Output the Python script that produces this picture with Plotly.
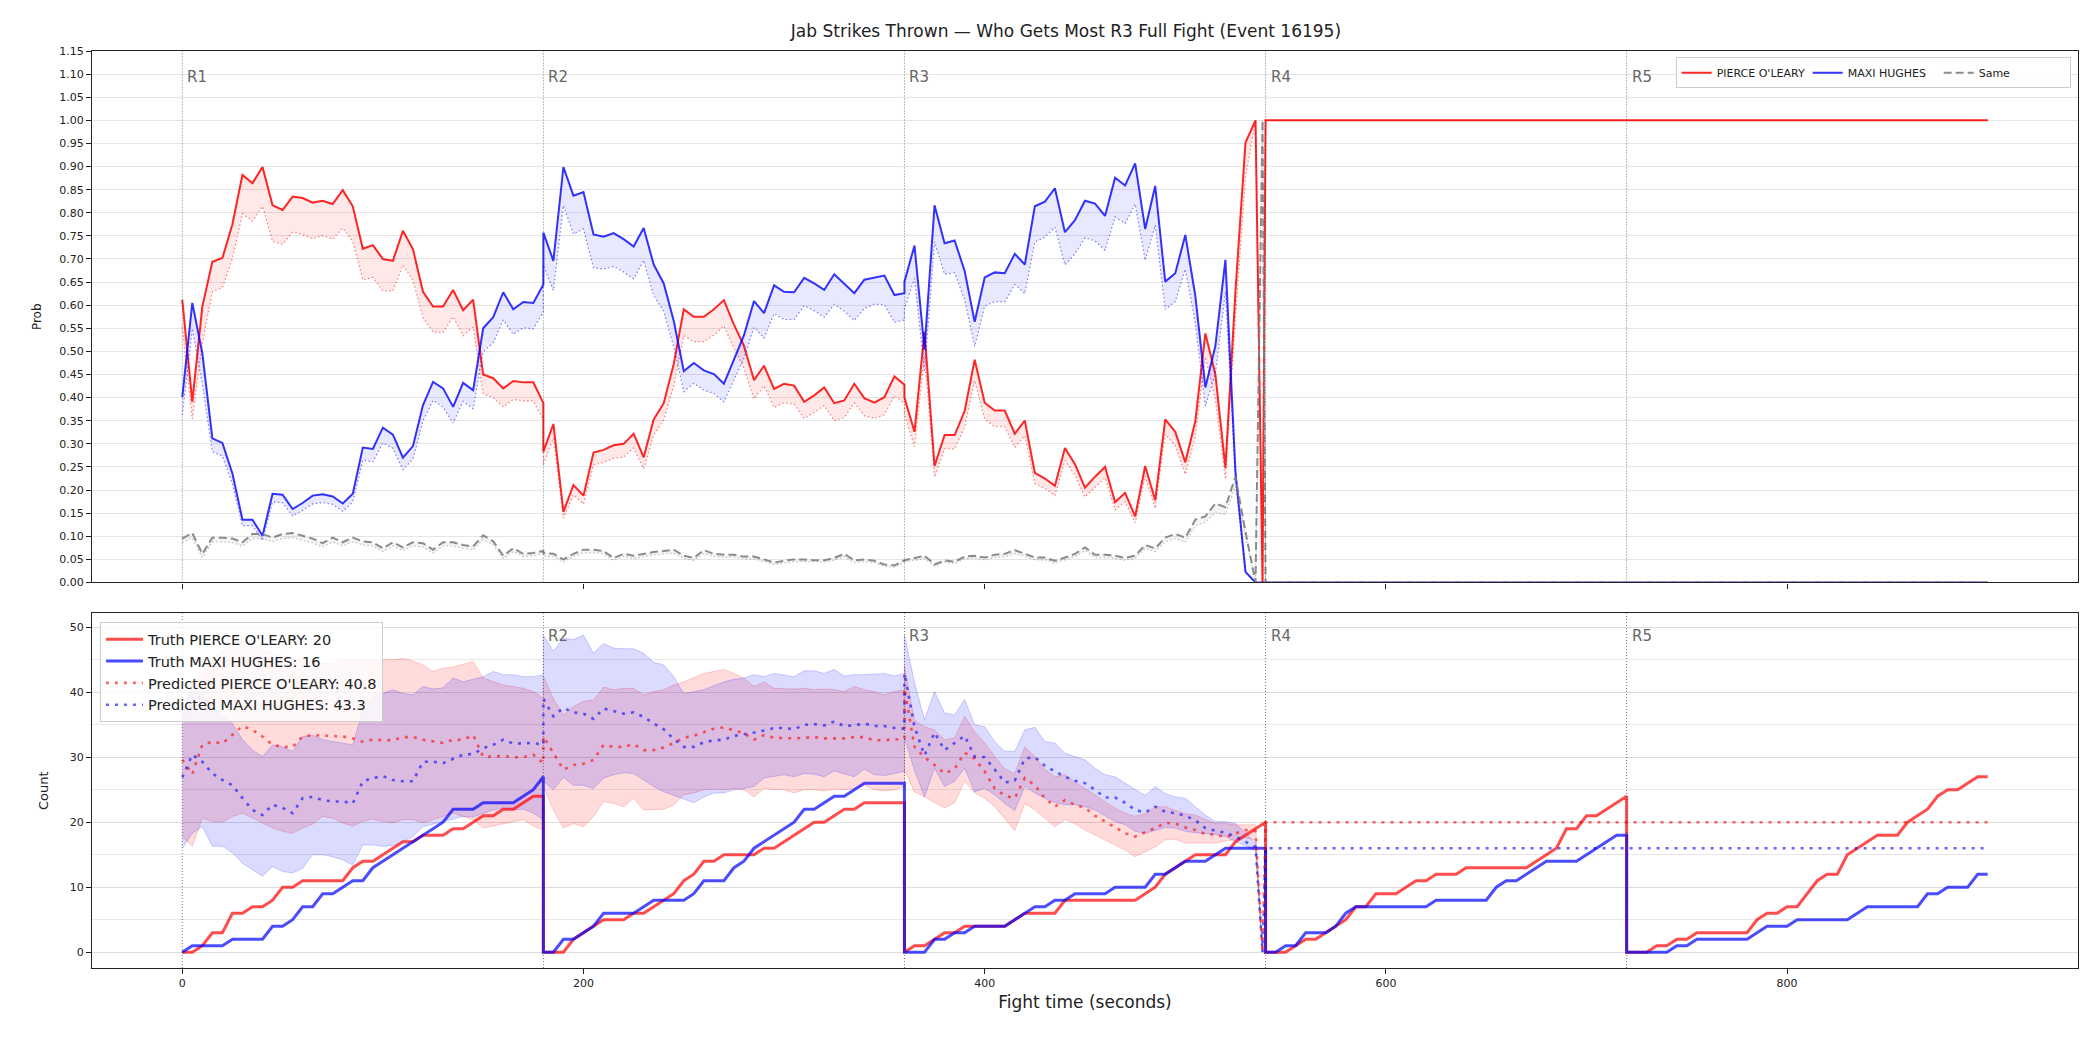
import plotly.graph_objects as go
from plotly.subplots import make_subplots

# ---------------- data ----------------
rounds = ["R1", "R2", "R3", "R4", "R5"]
round_starts = [0, 180, 360, 540, 720]
fighter_a = "PIERCE O'LEARY"
fighter_b = "MAXI HUGHES"

def grid(a, b):
    return list(range(a, b + 1, 5))

# time stamps (seconds)
t_prob = grid(0, 180) + grid(180, 360) + grid(360, 535) + [538.5] + [540, 900]
t_band = grid(0, 180) + grid(180, 360) + grid(360, 535) + [538.5]
t_pred = t_band + [540, 900]
t_truth = grid(0, 180) + grid(180, 360) + grid(360, 540) + grid(540, 720) + grid(720, 900)

# ---- top panel: probability (solid) ----
p_a_r1 = [0.612,0.391,0.597,0.694,0.702,0.775,0.882,0.864,0.899,0.816,0.806,0.835,0.832,0.822,0.826,0.819,0.849,0.814,0.722,0.730,0.700,0.696,0.761,0.721,0.629,0.597,0.597,0.633,0.589,0.612,0.450,0.442,0.420,0.436,0.433,0.433,0.388]
p_a_r2 = [0.283,0.343,0.153,0.211,0.188,0.281,0.287,0.297,0.300,0.322,0.271,0.353,0.388,0.473,0.591,0.575,0.575,0.591,0.611,0.558,0.512,0.438,0.469,0.419,0.430,0.426,0.391,0.405,0.422,0.388,0.394,0.430,0.399,0.389,0.401,0.446,0.428]
p_a_r3 = [0.400,0.326,0.543,0.252,0.319,0.319,0.371,0.482,0.389,0.372,0.372,0.322,0.350,0.237,0.225,0.209,0.291,0.256,0.205,0.229,0.250,0.174,0.194,0.143,0.252,0.178,0.353,0.326,0.260,0.349,0.539,0.450,0.248,0.630,0.952,1.000,0.000]
p_a_r45 = [1.0, 1.0]

p_b_r1 = [0.401,0.605,0.496,0.312,0.302,0.236,0.136,0.136,0.101,0.192,0.190,0.159,0.172,0.188,0.191,0.186,0.171,0.192,0.292,0.289,0.335,0.320,0.270,0.295,0.384,0.434,0.420,0.380,0.432,0.416,0.550,0.574,0.628,0.591,0.607,0.605,0.645]
p_b_r2 = [0.757,0.696,0.899,0.837,0.845,0.753,0.748,0.756,0.743,0.727,0.767,0.688,0.647,0.566,0.457,0.475,0.459,0.451,0.430,0.482,0.535,0.609,0.583,0.643,0.629,0.628,0.659,0.647,0.633,0.667,0.647,0.626,0.655,0.660,0.664,0.622,0.626]
p_b_r3 = [0.651,0.729,0.504,0.816,0.734,0.740,0.674,0.564,0.660,0.671,0.669,0.711,0.688,0.814,0.824,0.853,0.758,0.784,0.826,0.820,0.793,0.876,0.859,0.907,0.765,0.858,0.651,0.669,0.752,0.620,0.422,0.512,0.698,0.240,0.023,0.000,0.000]
p_b_r45 = [0.0, 0.0]

p_s_r1 = [0.095,0.107,0.062,0.097,0.097,0.095,0.087,0.105,0.105,0.097,0.105,0.107,0.101,0.095,0.085,0.097,0.087,0.097,0.089,0.087,0.074,0.087,0.076,0.087,0.085,0.071,0.087,0.087,0.081,0.078,0.102,0.089,0.058,0.074,0.062,0.064,0.068]
p_s_r2 = [0.064,0.062,0.050,0.062,0.071,0.071,0.068,0.053,0.062,0.058,0.062,0.066,0.068,0.071,0.058,0.053,0.070,0.062,0.060,0.060,0.056,0.056,0.050,0.043,0.047,0.050,0.050,0.048,0.048,0.053,0.062,0.048,0.050,0.047,0.039,0.037,0.048]
p_s_r3 = [0.048,0.053,0.058,0.039,0.048,0.045,0.056,0.058,0.054,0.060,0.062,0.070,0.062,0.054,0.054,0.047,0.054,0.062,0.076,0.060,0.060,0.058,0.053,0.058,0.081,0.074,0.097,0.105,0.097,0.136,0.143,0.171,0.163,0.229,0.110,0.000,1.000]
p_s_r45 = [0.0, 0.0]

# ---- top panel: normalised probability (dotted) ----
n_a_r1 = [.552,.354,.517,.629,.638,.701,.798,.782,.814,.738,.732,.758,.753,.744,.750,.743,.767,.738,.655,.660,.631,.631,.687,.654,.573,.542,.541,.575,.534,.553,.408,.400,.380,.396,.393,.393,.352]
n_a_r2 = [.256,.312,.139,.190,.170,.254,.260,.269,.271,.291,.246,.319,.352,.426,.534,.521,.521,.535,.555,.507,.464,.397,.426,.379,.389,.386,.355,.368,.383,.350,.357,.389,.361,.355,.363,.404,.388]
n_a_r3 = [.364,.294,.491,.228,.290,.289,.337,.437,.353,.337,.337,.292,.318,.214,.204,.188,.264,.232,.185,.206,.227,.157,.175,.129,.230,.160,.321,.296,.234,.316,.488,.397,.224,.573,.877,1.0,0.0]
n_a_r45 = [1.0, 1.0]

n_b_r1 = [.362,.549,.429,.283,.274,.213,.123,.123,.091,.174,.173,.144,.156,.170,.173,.169,.154,.174,.265,.261,.302,.290,.244,.267,.350,.394,.380,.345,.392,.376,.499,.519,.568,.537,.551,.549,.586]
n_b_r2 = [.686,.632,.816,.754,.765,.681,.678,.684,.672,.657,.697,.621,.587,.510,.413,.431,.416,.409,.391,.438,.485,.552,.529,.582,.569,.569,.599,.588,.574,.602,.587,.567,.593,.602,.601,.563,.568]
n_b_r3 = [.592,.658,.456,.737,.667,.670,.612,.511,.598,.608,.607,.645,.625,.737,.747,.769,.687,.711,.746,.739,.719,.791,.777,.819,.697,.773,.591,.608,.678,.561,.382,.452,.629,.218,.021,0.0,0.0]
n_b_r45 = [0.0, 0.0]

n_s_r1 = [.086,.097,.054,.088,.088,.086,.079,.095,.095,.088,.095,.097,.091,.086,.077,.088,.079,.088,.081,.079,.067,.079,.069,.079,.077,.064,.079,.079,.074,.071,.093,.081,.052,.067,.056,.058,.062]
n_s_r2 = [.058,.056,.045,.056,.064,.064,.062,.048,.056,.052,.056,.060,.062,.064,.052,.048,.063,.056,.054,.055,.051,.051,.045,.039,.042,.045,.045,.044,.044,.048,.056,.043,.045,.043,.035,.033,.044]
n_s_r3 = [.044,.048,.052,.035,.044,.041,.051,.053,.049,.054,.056,.063,.056,.049,.049,.042,.049,.056,.069,.054,.054,.052,.048,.052,.074,.067,.088,.095,.087,.123,.130,.151,.147,.208,.101,0.0,1.0]
n_s_r45 = [0.0, 0.0]

# ---- bottom panel: truth cumulative counts ----
truth_a_r1 = [0,0,1,3,3,6,6,7,7,8,10,10,11,11,11,11,11,13,14,14,15,16,17,17,18,18,18,19,19,20,21,21,22,22,23,24,24]
truth_a_r2 = [0,0,0,2,3,4,5,5,5,6,6,7,8,9,11,12,14,14,15,15,15,15,16,16,17,18,19,20,20,21,22,22,23,23,23,23,23]
truth_a_r3 = [0,1,1,2,3,3,4,4,4,4,4,5,6,6,6,6,8,8,8,8,8,8,8,8,9,10,12,13,14,15,15,15,15,17,18,19,20]
truth_a_r4 = [0,0,0,1,2,2,3,4,5,7,7,9,9,9,10,11,11,12,12,12,13,13,13,13,13,13,13,14,15,16,19,19,21,21,22,23,24]
truth_a_r5 = [0,0,0,1,1,2,2,3,3,3,3,3,3,5,6,6,7,7,9,11,12,12,15,16,17,18,18,18,20,21,22,24,25,25,26,27,27]

truth_b_r1 = [0,1,1,1,1,2,2,2,2,4,4,5,7,7,9,9,10,11,11,13,14,15,16,17,18,19,20,22,22,22,23,23,23,23,24,25,27]
truth_b_r2 = [0,0,2,2,3,4,6,6,6,6,7,8,8,8,8,9,11,11,11,13,14,16,17,18,19,20,22,22,23,24,24,25,26,26,26,26,26]
truth_b_r3 = [0,0,0,2,2,3,3,4,4,4,4,5,6,7,7,8,8,9,9,9,9,10,10,10,10,12,12,13,14,14,14,15,16,16,16,16,16]
truth_b_r4 = [0,0,1,1,3,3,3,4,6,7,7,7,7,7,7,7,7,8,8,8,8,8,8,10,11,11,12,13,14,14,14,14,15,16,17,18,18]
truth_b_r5 = [0,0,0,0,0,1,1,2,2,2,2,2,2,3,4,4,4,5,5,5,5,5,5,6,7,7,7,7,7,7,9,9,10,10,10,12,12]

# ---- bottom panel: predicted counts and bands ----
pred_a_r1 = [29.6,27.4,31.9,32.4,32.1,33.4,34.8,34.2,33.2,31.9,31.6,31.6,33.2,33.4,33.3,33.3,33.2,32.9,32.4,32.7,32.7,32.6,33.1,33.1,32.7,32.4,32.2,32.7,32.7,33.4,30.1,30.1,30.2,30.0,30.0,30.4,29.1]
pred_a_r2 = [33.2,30.6,28.1,28.8,29.0,29.6,31.9,31.6,31.6,32.0,31.1,31.1,31.5,32.2,33.0,33.3,33.9,34.4,34.6,34.2,33.7,32.7,33.4,33.0,32.9,32.9,33.0,33.1,32.9,32.9,32.9,33.1,33.1,32.6,32.6,32.7,32.9]
pred_a_r3 = [40.6,31.6,30.0,28.8,27.5,28.2,30.7,29.8,27.8,25.2,24.1,23.7,26.8,25.7,23.7,22.4,23.4,22.7,22.2,21.0,20.1,19.2,18.3,17.8,18.4,19.1,19.9,19.8,19.2,18.8,18.2,18.1,17.7,18.2,18.8,18.6,0.0]
pred_a_r45 = [20.0, 20.0]

pred_b_r1 = [26.9,30.4,29.3,27.5,26.5,25.7,23.7,21.9,21.1,22.7,22.2,21.4,23.7,23.9,23.4,23.2,23.2,22.9,26.3,26.8,27.1,26.5,26.3,26.3,29.3,29.3,29.1,29.8,30.4,30.5,31.4,31.9,32.7,32.1,32.2,32.2,31.9]
pred_b_r2 = [39.0,36.3,37.6,36.9,36.7,35.9,37.5,37.1,36.7,36.9,36.2,35.2,34.3,32.8,31.6,31.6,32.3,32.6,32.7,33.3,33.5,33.8,34.1,34.5,34.5,34.3,35.0,35.1,34.9,35.5,34.8,34.9,35.2,34.8,34.8,34.5,34.4]
pred_b_r3 = [42.9,34.7,30.3,33.8,31.1,32.2,33.3,30.1,30.0,28.1,26.1,26.4,29.8,30.0,28.7,27.8,27.0,26.4,26.0,25.0,23.8,23.8,23.0,21.9,21.5,22.4,21.6,21.4,21.0,20.3,19.1,18.7,18.4,17.8,17.0,16.2,0.0]
pred_b_r45 = [16.0, 16.0]

lo_a_r1 = [17.8,16.3,20.6,20.1,20.0,20.9,21.4,20.6,19.9,19.1,18.6,18.3,19.1,19.7,20.9,20.6,19.9,19.4,20.1,20.5,20.1,19.9,20.4,20.4,19.9,20.4,20.9,21.4,20.9,20.4,19.1,19.4,19.8,20.1,20.4,19.4,18.8]
hi_a_r1 = [37.0,41.0,43.0,45.0,46.5,47.5,48.0,47.0,46.5,46.0,45.5,45.0,45.0,44.5,44.5,44.5,45.0,45.0,44.9,45.0,44.9,45.0,45.2,44.8,44.2,43.2,43.7,43.9,44.3,44.7,42.2,41.6,41.1,40.9,40.6,40.1,39.1]
lo_b_r1 = [16.0,18.3,19.3,16.3,16.3,15.3,13.7,12.7,11.7,13.2,12.4,12.2,12.9,15.0,15.0,14.7,14.2,13.4,16.5,16.5,16.3,16.4,17.0,17.8,19.3,19.7,20.1,20.4,20.9,20.8,21.4,21.9,22.2,21.9,22.0,21.4,20.4]
hi_b_r1 = [36.0,41.5,39.5,38.0,36.3,35.2,32.7,31.1,30.1,31.9,31.6,30.9,33.2,33.4,32.7,32.4,32.2,31.9,37.3,39.3,39.8,40.4,39.8,39.6,40.9,40.5,40.7,42.2,41.6,42.0,42.4,43.2,42.7,42.7,42.4,42.4,42.7]

lo_a_r2 = [25.5,21.9,19.1,19.8,19.3,20.9,23.2,22.9,22.4,23.7,21.9,22.0,22.0,22.7,24.2,24.5,25.0,25.1,25.0,25.2,25.0,23.9,25.2,25.0,25.0,24.5,25.0,25.0,24.8,25.1,25.0,25.2,25.7,25.0,24.8,25.0,25.5]
hi_a_r2 = [42.5,39.0,36.5,37.8,38.6,38.8,40.8,40.4,40.6,40.6,39.6,40.1,40.4,41.1,41.6,42.2,42.9,43.2,43.5,42.9,42.2,40.9,41.6,40.6,40.5,40.5,40.6,40.4,40.5,40.4,40.1,40.9,40.4,40.1,39.6,40.1,40.4]
lo_b_r2 = [26.3,25.0,26.9,25.7,25.7,25.2,26.8,27.3,27.6,27.5,26.5,25.5,24.7,24.1,23.5,23.0,23.9,24.5,24.5,25.0,25.2,25.5,26.8,27.0,27.3,27.0,27.5,27.4,27.0,27.9,27.5,27.0,28.2,27.3,27.2,27.5,27.8]
hi_b_r2 = [48.8,46.3,48.3,48.1,48.8,46.0,47.5,46.8,46.7,46.7,46.0,44.6,44.2,42.4,39.8,40.1,40.4,41.0,41.6,42.0,42.2,42.7,42.4,42.9,42.7,42.4,43.3,43.3,42.9,43.5,42.5,42.7,42.7,42.8,42.9,42.5,42.9]

lo_a_r3 = [28.0,24.7,23.9,23.1,22.2,23.0,26.3,24.5,23.7,22.4,20.6,18.7,22.9,21.9,20.6,19.3,20.4,19.8,18.8,18.0,17.3,16.5,15.7,14.7,15.5,16.2,17.3,17.4,16.8,16.8,16.8,16.8,17.1,17.3,17.6,17.3,0.0]
hi_a_r3 = [44.0,35.7,34.7,34.2,32.7,33.0,36.3,33.9,32.2,30.1,28.2,27.5,31.6,30.1,28.1,27.0,27.3,26.2,25.2,24.2,23.2,22.2,21.4,20.9,21.3,22.4,22.4,21.9,21.3,21.1,20.4,19.8,19.8,19.6,19.6,19.6,0.0]
lo_b_r3 = [33.0,28.0,23.9,28.3,25.5,26.3,28.3,24.7,25.2,24.2,22.9,21.8,25.5,24.5,23.7,23.0,22.7,22.7,22.4,21.9,21.0,20.1,19.6,18.6,18.3,18.8,19.2,19.1,18.6,18.4,18.3,18.1,17.8,17.0,16.4,15.6,0.0]
hi_b_r3 = [48.8,41.5,35.8,40.1,36.8,36.5,38.9,35.0,34.7,32.4,30.9,30.9,34.2,34.6,32.4,32.2,30.6,30.1,29.6,28.3,27.3,27.0,26.0,25.0,24.1,25.5,24.4,23.9,23.7,22.4,21.1,20.1,20.1,19.8,18.4,16.8,0.0]

final_truth_a = 20
final_truth_b = 16
final_pred_a = 40.8
final_pred_b = 43.3

# ---------------- assemble ----------------
p_a = p_a_r1 + p_a_r2 + p_a_r3 + p_a_r45
p_b = p_b_r1 + p_b_r2 + p_b_r3 + p_b_r45
p_s = p_s_r1 + p_s_r2 + p_s_r3 + p_s_r45
n_a = n_a_r1 + n_a_r2 + n_a_r3 + n_a_r45
n_b = n_b_r1 + n_b_r2 + n_b_r3 + n_b_r45
n_s = n_s_r1 + n_s_r2 + n_s_r3 + n_s_r45

truth_a = truth_a_r1 + truth_a_r2 + truth_a_r3 + truth_a_r4 + truth_a_r5
truth_b = truth_b_r1 + truth_b_r2 + truth_b_r3 + truth_b_r4 + truth_b_r5
pred_a = pred_a_r1 + pred_a_r2 + pred_a_r3 + pred_a_r45
pred_b = pred_b_r1 + pred_b_r2 + pred_b_r3 + pred_b_r45
lo_a = lo_a_r1 + lo_a_r2 + lo_a_r3
hi_a = hi_a_r1 + hi_a_r2 + hi_a_r3
lo_b = lo_b_r1 + lo_b_r2 + lo_b_r3
hi_b = hi_b_r1 + hi_b_r2 + hi_b_r3

# ---------------- figure ----------------
FONT = "DejaVu Sans"
RED = "rgba(255,0,0,0.85)"
BLUE = "rgba(0,0,255,0.8)"
GRAY = "rgba(128,128,128,0.9)"

fig = make_subplots(rows=2, cols=1, shared_xaxes=True, vertical_spacing=0.03)

# top panel
for y_main, y_norm, col, dcol, fcol, name, dash in [
    (p_a, n_a, RED, "rgba(255,0,0,0.5)", "rgba(255,0,0,0.09)", fighter_a, None),
    (p_b, n_b, BLUE, "rgba(0,0,255,0.5)", "rgba(0,0,255,0.09)", fighter_b, None),
    (p_s, n_s, GRAY, "rgba(128,128,128,0.5)", "rgba(128,128,128,0.09)", "Same", "8px,4px"),
]:
    fig.add_trace(go.Scatter(x=t_prob, y=y_main, mode="lines", name=name,
                             line=dict(color=col, width=2, dash=dash),
                             legend="legend", showlegend=True), row=1, col=1)
    fig.add_trace(go.Scatter(x=t_prob, y=y_norm, mode="lines", name=name + " norm",
                             line=dict(color=dcol, width=1.2, dash="1.5px,2.5px"),
                             fill="tonexty", fillcolor=fcol,
                             showlegend=False), row=1, col=1)

# bottom panel bands
for lo, hi, fcol, ecol in [
    (lo_a, hi_a, "rgba(255,0,0,0.14)", "rgba(255,0,0,0.18)"),
    (lo_b, hi_b, "rgba(0,0,255,0.14)", "rgba(0,0,255,0.18)"),
]:
    fig.add_trace(go.Scatter(x=t_band, y=lo, mode="lines", line=dict(color=ecol, width=1),
                             showlegend=False), row=2, col=1)
    fig.add_trace(go.Scatter(x=t_band, y=hi, mode="lines", line=dict(color=ecol, width=1),
                             fill="tonexty", fillcolor=fcol, showlegend=False), row=2, col=1)

fig.add_trace(go.Scatter(x=t_truth, y=truth_a, mode="lines",
                         name=f"Truth {fighter_a}: {final_truth_a}",
                         line=dict(color="rgba(255,0,0,0.7)", width=3),
                         legend="legend2"), row=2, col=1)
fig.add_trace(go.Scatter(x=t_truth, y=truth_b, mode="lines",
                         name=f"Truth {fighter_b}: {final_truth_b}",
                         line=dict(color="rgba(0,0,255,0.7)", width=3),
                         legend="legend2"), row=2, col=1)
fig.add_trace(go.Scatter(x=t_pred, y=pred_a, mode="lines",
                         name=f"Predicted {fighter_a}: {final_pred_a}",
                         line=dict(color="rgba(255,0,0,0.6)", width=2.6, dash="3px,6px"),
                         legend="legend2"), row=2, col=1)
fig.add_trace(go.Scatter(x=t_pred, y=pred_b, mode="lines",
                         name=f"Predicted {fighter_b}: {final_pred_b}",
                         line=dict(color="rgba(0,0,255,0.6)", width=2.6, dash="3px,6px"),
                         legend="legend2"), row=2, col=1)

# round markers
shapes = []
annotations = []
for i, (lab, ts) in enumerate(zip(rounds, round_starts)):
    for yref in ["y domain", "y2 domain"]:
        shapes.append(dict(type="line", xref="x" if yref == "y domain" else "x2", yref=yref,
                           x0=ts, x1=ts, y0=0, y1=1,
                           line=dict(color="rgba(60,60,60,0.7)", width=1, dash="1px,2px"),
                           layer="above"))
    annotations.append(dict(x=ts, xref="x", y=0.972, yref="y domain", text=lab,
                            showarrow=False, xanchor="left", yanchor="top", xshift=3,
                            font=dict(family=FONT, size=15, color="#666666")))
    if i > 0:
        annotations.append(dict(x=ts, xref="x2", y=0.968, yref="y2 domain", text=lab,
                                showarrow=False, xanchor="left", yanchor="top", xshift=3,
                                font=dict(family=FONT, size=15, color="#666666")))

axis_common = dict(showline=True, linecolor="#222222", linewidth=1.2, mirror=True,
                   ticks="outside", ticklen=5, tickwidth=1, tickcolor="#222222",
                   zeroline=False, tickfont=dict(family=FONT, size=11, color="#222222"))

fig.update_layout(
    width=2100, height=1050,
    margin=dict(l=92, r=22, t=51, b=82),
    paper_bgcolor="white", plot_bgcolor="white",
    font=dict(family=FONT, color="#222222"),
    title=dict(text="Jab Strikes Thrown — Who Gets Most R3 Full Fight (Event 16195)",
               x=0.5076, xref="container", xanchor="center",
               y=0.970, yref="container", yanchor="middle",
               font=dict(family=FONT, size=17, color="#222222")),
    shapes=shapes, annotations=annotations,
    legend=dict(orientation="h", x=0.9963, y=0.9931, xanchor="right", yanchor="top",
                traceorder="normal", itemwidth=30, entrywidth=86,
                bgcolor="rgba(255,255,255,0.85)", bordercolor="#cccccc", borderwidth=1,
                font=dict(family=FONT, size=11, color="#222222")),
    legend2=dict(x=0.004, y=0.377, xanchor="left", yanchor="top", traceorder="normal",
                 itemwidth=37,
                 bgcolor="rgba(255,255,255,0.8)", bordercolor="#cccccc", borderwidth=1,
                 font=dict(family=FONT, size=14.5, color="#222222")),
)

fig.update_xaxes(range=[-45, 945], tickvals=[0, 200, 400, 600, 800], showgrid=False, **axis_common)
fig.update_xaxes(showticklabels=False, row=1, col=1)
fig.update_xaxes(title=dict(text="Fight time (seconds)", font=dict(family=FONT, size=17), standoff=6),
                 row=2, col=1)

fig.update_yaxes(domain=[0.4204, 1.0], range=[0, 1.15], dtick=0.05, tickformat=".2f",
                 showgrid=True, gridcolor="#e5e5e5", gridwidth=1,
                 title=dict(text="Prob", font=dict(family=FONT, size=12), standoff=14),
                 row=1, col=1, **axis_common)
fig.update_yaxes(domain=[0.0, 0.3868], range=[-2.43, 52.15], dtick=10,
                 showgrid=True, gridcolor="#dddddd", gridwidth=1,
                 minor=dict(dtick=5, showgrid=True, gridcolor="#e8e8e8", ticks=""),
                 title=dict(text="Count", font=dict(family=FONT, size=13), standoff=18),
                 row=2, col=1, **axis_common)

fig.write_html("out.html")
